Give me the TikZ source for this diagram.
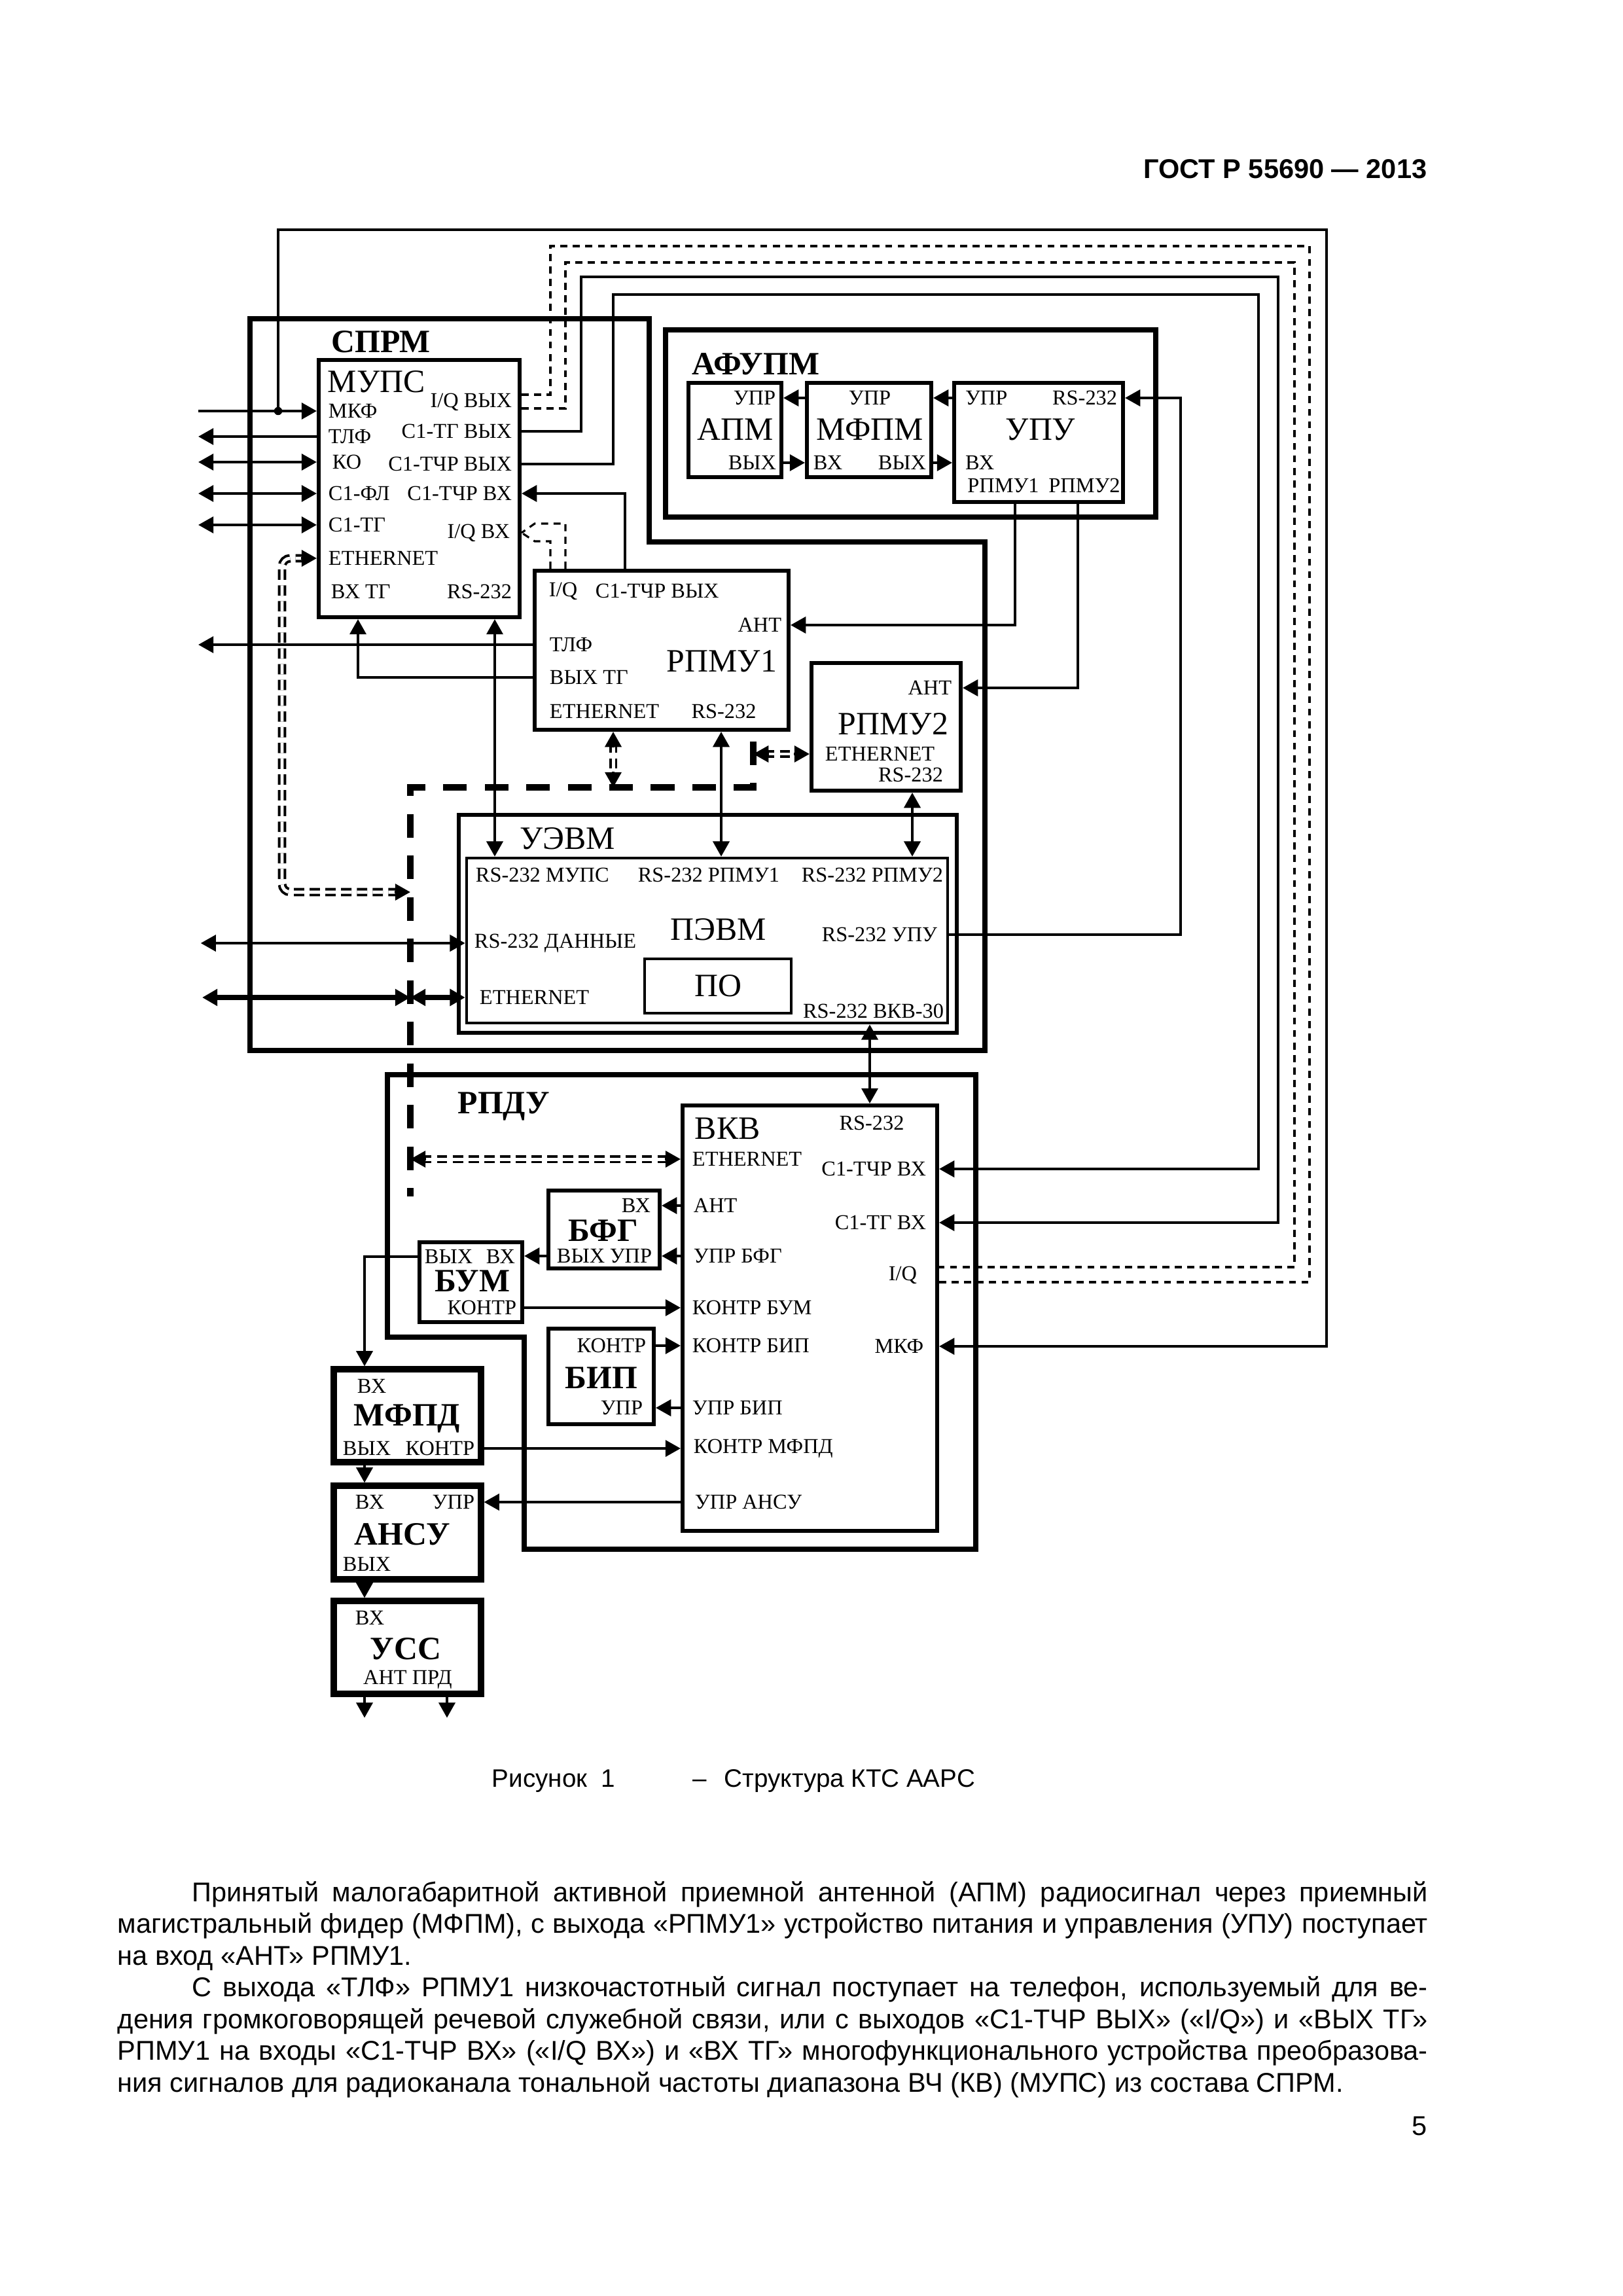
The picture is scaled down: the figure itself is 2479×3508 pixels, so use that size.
\documentclass[tikz,border=0pt]{standalone}
\usepackage{fontspec}
\setmainfont{Liberation Serif}
\newfontfamily\arialfont{Liberation Sans}
\usetikzlibrary{arrows.meta,calc,fit}

\newcommand\portfont{\fontsize{7.8}{8.4}\selectfont}
\newcommand\unitfont{\fontsize{12}{13}\selectfont}
\newcommand\groupfont{\fontsize{12}{13}\selectfont\bfseries}
\newcommand\bodyfont{\arialfont\fontsize{10}{11.6}\selectfont}
\newcommand\capfont{\arialfont\fontsize{9.3}{11}\selectfont}

\begin{document}
\begin{tikzpicture}[x=0.24101pt,y=-0.24101pt,>={Triangle[length=5.6pt,width=6pt]},
  grp/.style={line width=1.8pt},
  blk/.style={draw,inner sep=0pt,line width=1.45pt},
  hblk/.style={draw,inner sep=0pt,line width=2.2pt},
  portlbl/.style={font=\portfont,inner sep=1pt},
  unitname/.style={font=\unitfont,inner sep=0pt},
  ttl/.style={font=\groupfont,inner sep=0pt},
  wire/.style={line width=1pt},
  fatwire/.style={line width=1.9pt},
  iqline/.style={line width=0.75pt,dash pattern=on 2.6pt off 2pt},
  ethline/.style={double,line width=0.95pt,double distance=1.2pt,dash pattern=on 3.8pt off 2pt,
    shorten <=4pt,shorten >=4pt},
  busline/.style={line width=2.3pt,dash pattern=on 8.7pt off 6.6pt}]

\useasboundingbox (0,0) rectangle (2479,3508);

%================= page head =================
\node[anchor=base east,inner sep=0,font=\arialfont\bfseries\fontsize{10}{12}\selectfont] (gost)
  at (2181,273) {ГОСТ Р 55690 — 2013};

%================= СПРМ =================
\draw[grp] (382,487) -- (992,487) -- (992,828) -- (1505,828) -- (1505,1605) -- (382,1605) -- cycle;
\node[ttl] (sprm) at (582,522) {СПРМ};

% --- МУПС
\node[blk,fit={(487,550) (794,943)}] (mups) {};
\node[unitname,anchor=base west] (mupsn) at (500,600) {МУПС};
\node[portlbl,anchor=west] (mkf)   at (497,628) {МКФ};
\node[portlbl,anchor=west] (tlf)   at (497,667) {ТЛФ};
\node[portlbl,anchor=west] (ko)    at (503,706) {КО};
\node[portlbl,anchor=west] (cfl)   at (497,754) {С1-ФЛ};
\node[portlbl,anchor=west] (ctg)   at (497,802) {С1-ТГ};
\node[portlbl,anchor=west] (meth)  at (497,853) {ETHERNET};
\node[portlbl,anchor=west] (mvxtg) at (501,904) {ВХ ТГ};
\node[portlbl,anchor=east] (iqo)   at (787,614) {I/Q ВЫХ};
\node[portlbl,anchor=east] (tgo)   at (787,659) {С1-ТГ ВЫХ};
\node[portlbl,anchor=east] (tcho)  at (787,709) {С1-ТЧР ВЫХ};
\node[portlbl,anchor=east] (tchi)  at (787,754) {С1-ТЧР ВХ};
\node[portlbl,anchor=east] (iqi)   at (784,814) {I/Q ВХ};
\node[portlbl,anchor=east] (mrs)   at (787,904) {RS-232};

% --- РПМУ1
\node[blk,fit={(817,872) (1205,1115)}] (r1) {};
\node[portlbl,anchor=west] (r1iq)  at (834,903) {I/Q};
\node[portlbl,anchor=west] (r1tch) at (905,903) {С1-ТЧР ВЫХ};
\node[portlbl,anchor=east] (r1ant) at (1199,955) {АНТ};
\node[portlbl,anchor=west] (r1tlf) at (835,985) {ТЛФ};
\node[unitname] (r1n) at (1103,1010) {РПМУ1};
\node[portlbl,anchor=west] (r1tg)  at (835,1035) {ВЫХ ТГ};
\node[portlbl,anchor=west] (r1eth) at (835,1087) {ETHERNET};
\node[portlbl] (r1rs) at (1106,1087) {RS-232};

% --- РПМУ2
\node[blk,fit={(1240,1013) (1468,1208)}] (r2) {};
\node[portlbl,anchor=east] (r2ant) at (1459,1051) {АНТ};
\node[unitname] (r2n) at (1365,1106) {РПМУ2};
\node[portlbl,anchor=west] (r2eth) at (1256,1152) {ETHERNET};
\node[portlbl,anchor=east] (r2rs)  at (1446,1184) {RS-232};

% --- УЭВМ
\node[draw,inner sep=0pt,line width=1.4pt,fit={(701,1245) (1462,1578)}] (uevm) {};
\node[unitname,anchor=base west] (uevmn) at (794,1297) {УЭВМ};
\node[draw,inner sep=0pt,line width=1.1pt,fit={(713,1311) (1448,1563)}] (pc) {};
\node[portlbl,anchor=west] (pcm)  at (722,1337) {RS-232 МУПС};
\node[portlbl] (pcr1) at (1083,1337) {RS-232 РПМУ1};
\node[portlbl] (pcr2) at (1333,1337) {RS-232 РПМУ2};
\node[unitname] (pcn) at (1098,1420) {ПЭВМ};
\node[portlbl,anchor=east] (pcupu) at (1437,1428) {RS-232 УПУ};
\node[portlbl,anchor=west] (pcdat) at (720,1441) {RS-232 ДАННЫЕ};
\node[portlbl,anchor=west] (pceth) at (728,1524) {ETHERNET};
\node[draw,line width=0.85pt,inner sep=0pt,fit={(985,1465) (1209,1548)}] (po) {};
\node[unitname] (pon) at (po.center) {ПО};
\node[portlbl,anchor=east] (pcvkv) at (1447,1545) {RS-232 ВКВ-30};

%================= АФУПМ =================
\node[draw,inner sep=0pt,line width=1.9pt,fit={(1017,504) (1766,790)}] (afupm) {};
\node[ttl] (afupmn) at (1155,556) {АФУПМ};
\node[blk,fit={(1052,585) (1194,729)}] (apm) {};
\node[blk,fit={(1233,585) (1423,729)}] (mfpm) {};
\node[blk,fit={(1458,585) (1716,767)}] (upu) {};
\node[portlbl,anchor=east] (apmupr) at (1190,608) {УПР};
\node[unitname] (apmn) at (1124,656) {АПМ};
\node[portlbl,anchor=east] (apmout) at (1191,707) {ВЫХ};
\node[portlbl] (mfupr) at (1329,608) {УПР};
\node[unitname] (mfn) at (1329,656) {МФПМ};
\node[portlbl,anchor=west] (mfin)  at (1238,707) {ВХ};
\node[portlbl,anchor=east] (mfout) at (1420,707) {ВЫХ};
\node[portlbl,anchor=west] (upupr) at (1470,608) {УПР};
\node[portlbl,anchor=east] (upurs) at (1712,608) {RS-232};
\node[unitname] (upun) at (1590,656) {УПУ};
\node[portlbl,anchor=west] (upuin) at (1470,707) {ВХ};
\node[portlbl] (upur1) at (1533,742) {РПМУ1};
\node[portlbl] (upur2) at (1657,742) {РПМУ2};

\draw[wire,->] (mfpm.west |- apmupr) -- (apm.east |- apmupr);
\draw[wire,->] (upu.west |- apmupr) -- (mfpm.east |- apmupr);
\draw[wire,->] (apm.east |- apmout) -- (mfpm.west |- apmout);
\draw[wire,->] (mfpm.east |- apmout) -- (upu.west |- apmout);

%================= РПДУ =================
\draw[grp] (592,1642) -- (1491,1642) -- (1491,2367) -- (801,2367) -- (801,2043) -- (592,2043) -- cycle;
\node[ttl] (rpdu) at (770,1690) {РПДУ};

% --- ВКВ
\node[blk,fit={(1043,1689) (1432,2339)}] (vkv) {};
\node[unitname,anchor=base west] (vkvn) at (1061,1740) {ВКВ};
\node[portlbl] (vrs) at (1332,1716) {RS-232};
\node[portlbl,anchor=west] (veth)  at (1053,1771) {ETHERNET};
\node[portlbl,anchor=east] (vtch)  at (1420,1786) {С1-ТЧР ВХ};
\node[portlbl,anchor=west] (vant)  at (1055,1842) {АНТ};
\node[portlbl,anchor=east] (vtg)   at (1420,1868) {С1-ТГ ВХ};
\node[portlbl,anchor=west] (vupb)  at (1055,1919) {УПР БФГ};
\node[portlbl,anchor=east] (viq)   at (1406,1948) {I/Q};
\node[portlbl,anchor=west] (vkbum) at (1053,1998) {КОНТР БУМ};
\node[portlbl,anchor=west] (vkbip) at (1053,2056) {КОНТР БИП};
\node[portlbl,anchor=east] (vmkf)  at (1416,2057) {МКФ};
\node[portlbl,anchor=west] (vubip) at (1053,2151) {УПР БИП};
\node[portlbl,anchor=west] (vkmf)  at (1055,2213) {КОНТР МФПД};
\node[portlbl,anchor=west] (vuan)  at (1057,2295) {УПР АНСУ};

% --- БФГ, БУМ, БИП
\node[blk,fit={(838,1819) (1008,1938)}] (bfg) {};
\node[portlbl,anchor=east] (bfgin) at (999,1842) {ВХ};
\node[ttl] (bfgn) at (922,1880) {БФГ};
\node[portlbl,anchor=west] (bfgout) at (846,1919) {ВЫХ};
\node[portlbl,anchor=east] (bfgupr) at (1001,1919) {УПР};
\node[blk,fit={(641,1898) (798,2020)}] (bum) {};
\node[portlbl,anchor=west] (bumout) at (644,1920) {ВЫХ};
\node[portlbl,anchor=east] (bumin)  at (792,1920) {ВХ};
\node[ttl] (bumn) at (722,1957) {БУМ};
\node[portlbl,anchor=east] (bumk) at (794,1998) {КОНТР};
\node[blk,fit={(838,2030) (999,2176)}] (bip) {};
\node[portlbl,anchor=east] (bipk) at (992,2056) {КОНТР};
\node[ttl] (bipn) at (919,2105) {БИП};
\node[portlbl,anchor=east] (bipu) at (987,2151) {УПР};

% --- МФПД, АНСУ, УСС
\node[hblk,fit={(510,2092) (735,2234)}] (mfpd) {};
\node[portlbl,anchor=west] (mfpdin) at (541,2118) {ВХ};
\node[ttl] (mfpdn) at (622,2167) {МФПД};
\node[portlbl,anchor=west] (mfpdout) at (519,2213) {ВЫХ};
\node[portlbl,anchor=east] (mfpdk) at (730,2213) {КОНТР};
\node[hblk,fit={(510,2270) (735,2413)}] (ansu) {};
\node[portlbl,anchor=west] (ansuin) at (538,2295) {ВХ};
\node[portlbl,anchor=east] (ansuu) at (730,2295) {УПР};
\node[ttl] (ansun) at (615,2344) {АНСУ};
\node[portlbl,anchor=west] (ansuout) at (519,2390) {ВЫХ};
\node[hblk,fit={(510,2446) (735,2588)}] (uss) {};
\node[portlbl,anchor=west] (ussin) at (538,2472) {ВХ};
\node[ttl] (ussn) at (620,2519) {УСС};
\node[portlbl] (ussout) at (623,2566) {АНТ ПРД};

\draw[wire,->] (vkv.west |- vant) -- (bfg.east |- vant);
\draw[wire,->] (vkv.west |- vupb) -- (bfg.east |- vupb);
\draw[wire,->] (bfg.west |- bfgout) -- (bum.east |- bfgout);
\draw[wire,->] (bum.east |- bumk) -- (vkv.west |- bumk);
\draw[wire,->] (bip.east |- bipk) -- (vkv.west |- bipk);
\draw[wire,->] (vkv.west |- vubip) -- (bip.east |- vubip);
\draw[wire,->] (mfpd.east |- mfpdk) -- (vkv.west |- mfpdk);
\draw[wire,->] (vkv.west |- vuan) -- (ansu.east |- vuan);
\draw[wire,->] (bum.west |- bumout) -| (mfpd.north -| 557,0);
\draw[wire,->] (mfpd.south -| 557,0) -- (ansu.north -| 557,0);
\draw[wire,->] (ansu.south -| 557,0) -- (uss.north -| 557,0);
\draw[wire,->] (uss.south -| 557,0) -- ++(0,32);
\draw[wire,->] (uss.south -| 683,0) -- ++(0,32);

%================= links inside СПРМ =================
% left side of МУПС
\coordinate (mkfdot) at (425,628);
\draw[wire,<-] (mups.west |- mkf) -- ++(-181,0);
\draw[wire,->] (mups.west |- tlf) -- ++(-181,0);
\draw[wire,<->] (mups.west |- ko) -- ++(-181,0);
\draw[wire,<->] (mups.west |- cfl) -- ++(-181,0);
\draw[wire,<->] (mups.west |- ctg) -- ++(-181,0);
\fill (mkfdot) circle[radius=1.5pt];

% РПМУ1 outputs
\draw[wire,->] (r1.west |- r1tlf) -- ++(-511,0);
\draw[wire,->] (r1.west |- r1tg) -| (mups.south -| 547,0);
\draw[wire,->] (r1.north -| 955,0) |- (mups.east |- tchi);
\draw[iqline] (r1.north -| 864,0) |- (817,800) -- (mups.east |- iqi);
\draw[iqline] (r1.north -| 841,0) |- (817,827) -- (mups.east |- iqi);
\draw[wire,<->] (mups.south -| 756,0) -- (pc.north -| 756,0);
\draw[wire,<->] (r1.south -| 1102,0) -- (pc.north -| 1102,0);
\draw[wire,<->] (r2.south -| 1394,0) -- (pc.north -| 1394,0);

% УПУ to the receivers
\draw[wire,->] (upu.south -| 1551,0) |- (r1.east |- r1ant);
\draw[wire,->] (upu.south -| 1647,0) |- (r2.east |- r2ant);
\draw[wire,->] (pc.east |- pcupu) -- ++(354,0) |- (upu.east |- upurs);

% ПЭВМ outside
\draw[wire,<->] (pc.west |- pcdat) -- ++(-404,0);
\draw[wire,<->] (pc.south -| 1329,0) -- (vkv.north -| 1329,0);

%================= ETHERNET =================
\coordinate (busT) at (1151,1133);
\coordinate (busC) at (1151,1203);
\coordinate (busL) at (627,1203);
\coordinate (busB) at (627,1828);
\draw[busline] (busT) -- (busC) -- (busL) -- (busB);

\draw[fatwire,<->] (pc.west |- pceth) -- (busL |- pceth);
\draw[fatwire,<->] (busL |- pceth) -- ++(-318,0);

\draw[ethline,rounded corners=3pt] (mups.west |- meth) -| (431,1363) -- (busL |- 431,1363);
\draw[wire,->] ($(mups.west |- meth)+(-24,0)$) -- (mups.west |- meth);
\draw[wire,->] ($(busL |- 431,1363)+(-24,0)$) -- (busL |- 431,1363);

\draw[ethline] (r1.south -| 937,0) -- (busL -| 937,0);
\draw[wire,->] ($(r1.south -| 937,0)+(0,24)$) -- (r1.south -| 937,0);
\draw[wire,->] ($(busL -| 937,0)+(0,-24)$) -- (busL -| 937,0);

\draw[ethline] (busT |- r2eth) -- (r2.west |- r2eth);
\draw[wire,->] ($(busT |- r2eth)+(24,0)$) -- (busT |- r2eth);
\draw[wire,->] ($(r2.west |- r2eth)+(-24,0)$) -- (r2.west |- r2eth);

\draw[ethline] (busB |- veth) -- (vkv.west |- veth);
\draw[wire,->] ($(busB |- veth)+(24,0)$) -- (busB |- veth);
\draw[wire,->] ($(vkv.west |- veth)+(-24,0)$) -- (vkv.west |- veth);

%================= long links МУПС -- ВКВ =================
\draw[wire,->] (mkfdot) |- (2027,351) |- (vkv.east |- vmkf);
\draw[iqline] ($(mups.east |- iqo)+(0,-11)$) -| (841,376) -| (2001,1959) -- ($(vkv.east |- viq)+(0,11)$);
\draw[iqline] ($(mups.east |- iqo)+(0,10)$) -| (864,401) -| (1978,1936) -- ($(vkv.east |- viq)+(0,-12)$);
\draw[wire,->] (mups.east |- tgo) -| (888,423) -| (1953,1868) -- (vkv.east |- vtg);
\draw[wire,->] (mups.east |- tcho) -| (937,450) -| (1923,1786) -- (vkv.east |- vtch);

%================= caption and text =================
\node[anchor=base west,inner sep=0,font=\capfont] (fig) at (751,2730) {Рисунок\ \ 1};
\node[anchor=base west,inner sep=0,font=\capfont] (figd) at (1058,2730) {–};
\node[anchor=base west,inner sep=0,font=\capfont] (figt) at (1106,2730) {Структура КТС ААРС};

\node[anchor=base west,inner sep=0,font=\bodyfont] (l1) at (293,2905)
  {\makebox[455pt][s]{Принятый малогабаритной активной приемной антенной (АПМ) радиосигнал через приемный}};
\node[anchor=base west,inner sep=0,font=\bodyfont] (l2) at (179,2953)
  {\makebox[482.5pt][s]{магистральный фидер (МФПМ), с выхода «РПМУ1» устройство питания и управления (УПУ) поступает}};
\node[anchor=base west,inner sep=0,font=\bodyfont] (l3) at (179,3002)
  {на вход «АНТ» РПМУ1.};
\node[anchor=base west,inner sep=0,font=\bodyfont] (l4) at (293,3050)
  {\makebox[455pt][s]{С выхода «ТЛФ» РПМУ1 низкочастотный сигнал поступает на телефон, используемый для ве-}};
\node[anchor=base west,inner sep=0,font=\bodyfont] (l5) at (179,3099)
  {\makebox[482.5pt][s]{дения громкоговорящей речевой служебной связи, или с выходов «С1-ТЧР ВЫХ» («I/Q») и «ВЫХ ТГ»}};
\node[anchor=base west,inner sep=0,font=\bodyfont] (l6) at (179,3147)
  {\makebox[482.5pt][s]{РПМУ1 на входы «С1-ТЧР ВХ» («I/Q ВХ») и «ВХ ТГ» многофункционального устройства преобразова-}};
\node[anchor=base west,inner sep=0,font=\bodyfont] (l7) at (179,3196)
  {ния сигналов для радиоканала тональной частоты диапазона ВЧ (КВ) (МУПС) из состава СПРМ.};
\node[anchor=base east,inner sep=0,font=\bodyfont] (pg) at (2181,3262) {5};
\end{tikzpicture}
\end{document}
